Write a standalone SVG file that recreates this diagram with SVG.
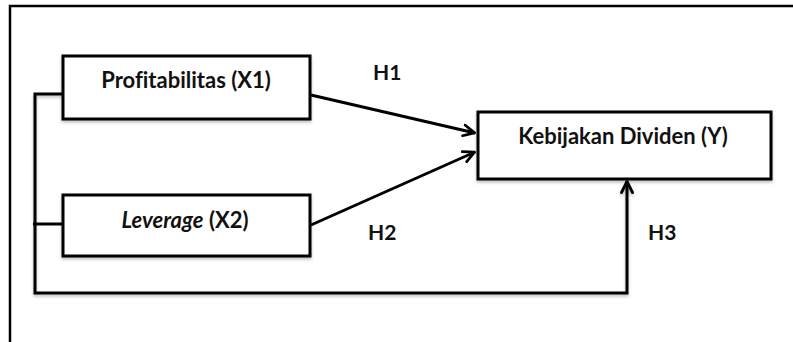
<svg xmlns="http://www.w3.org/2000/svg" width="793" height="342" viewBox="0 0 793 342">
  <style>
    .box { fill: #ffffff; stroke: #000000; stroke-width: 3; }
    .line { fill: none; stroke: #000000; stroke-width: 3; stroke-linejoin: miter; }
    .label { font-family: Lato, "Liberation Sans", sans-serif; font-weight: bold; font-size: 22px; fill: #111111; font-variant-ligatures: none; }
    .h { font-family: Lato, "Liberation Sans", sans-serif; font-weight: bold; font-size: 21px; fill: #111111; }
  </style>
  <defs>
    <marker id="arrow" viewBox="0 0 14 14" refX="13" refY="7" markerWidth="14" markerHeight="14" markerUnits="userSpaceOnUse" orient="auto">
      <path d="M1.5,1.5 L12.5,7 L1.5,12.5" fill="none" stroke="#000" stroke-width="2.8" stroke-linecap="round" stroke-linejoin="round"/>
    </marker>
    <filter id="shadow" x="-5%" y="-10%" width="110%" height="130%">
      <feDropShadow dx="0" dy="2" stdDeviation="1.5" flood-color="#000" flood-opacity="0.25"/>
    </filter>
  </defs>
  <rect x="0" y="0" width="793" height="342" fill="#ffffff"/>
  <g id="frame">
    <path d="M10,342 L10,6 L793,6" fill="none" stroke="#000" stroke-width="2.5"/>
  </g>
  <g id="connectors">
    <path class="line" d="M63,94 L35,94 L35,293 L627,293 L627,181" marker-end="url(#arrow)" filter="url(#shadow)"/>
    <path class="line" d="M33,224 L63,224"/>
    <path class="line" d="M311,95 L475,133" marker-end="url(#arrow)"/>
    <path class="line" d="M311,225 L475,152" marker-end="url(#arrow)"/>
  </g>
  <g id="node-x1">
    <rect class="box" x="63" y="56" width="247" height="63" filter="url(#shadow)"/>
    <text class="label" x="186" y="88" text-anchor="middle">Profitabilitas (X1)</text>
  </g>
  <g id="node-x2">
    <rect class="box" x="63" y="195" width="247" height="61" filter="url(#shadow)"/>
    <text class="label" x="185" y="228" text-anchor="middle"><tspan font-style="italic">Leverage</tspan> (X2)</text>
  </g>
  <g id="node-y">
    <rect class="box" x="478" y="112" width="293" height="67" filter="url(#shadow)"/>
    <text class="label" x="623" y="144" text-anchor="middle">Kebijakan Dividen (Y)</text>
  </g>
  <g id="labels">
    <text class="h" x="373" y="80">H1</text>
    <text class="h" x="368" y="240">H2</text>
    <text class="h" x="648" y="240">H3</text>
  </g>
</svg>
